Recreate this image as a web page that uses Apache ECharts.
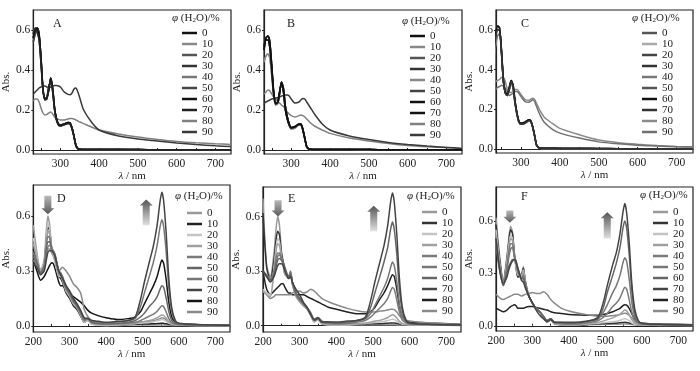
<!DOCTYPE html>
<html>
<head>
<meta charset="utf-8">
<script src="https://cdn.jsdelivr.net/npm/echarts@6/dist/echarts.min.js"></script>
<style>
html, body { margin: 0; padding: 0; background: #fff; }
#chart { width: 700px; height: 371px; }
</style>
</head>
<body>
<div id="chart"></div>
<script>
// water fraction, %
var waterLevels = ['0', '10', '20', '30', '40', '50', '60', '70', '80', '90'];

// wavelength grids, nm
var waveTop = [230,235,240,245,250,255,260,265,270,275,280,285,290,295,300,310,320,325,330,335,340,345,350,360,380,400,450,500,550,600,650,700,740];
var waveBottom = [200,210,220,230,235,240,245,250,255,260,270,275,280,290,300,310,320,330,340,350,360,380,400,430,460,480,495,505,520,530,540,548,553,558,565,572,580,590,600,650,740];

// panel A
var aMono1 = [0.56,0.6,0.61,0.58,0.46,0.31,0.255,0.26,0.3,0.36,0.31,0.21,0.155,0.13,0.125,0.13,0.137,0.135,0.11,0.07,0.025,0.008,0.004,0.003,0.003,0.002,0.002,0.002,0.001,0.001,0.001,0.001,0.001];
var aMono2 = [0.58,0.61,0.59,0.55,0.43,0.3,0.25,0.255,0.31,0.35,0.3,0.2,0.15,0.125,0.12,0.126,0.133,0.13,0.105,0.065,0.02,0.006,0.003,0.003,0.002,0.002,0.002,0.001,0.001,0.001,0.001,0.001,0.001];
var aMono3 = [0.54,0.58,0.6,0.57,0.45,0.3,0.26,0.265,0.32,0.34,0.29,0.2,0.15,0.128,0.122,0.128,0.135,0.133,0.11,0.068,0.022,0.007,0.004,0.003,0.003,0.002,0.002,0.002,0.001,0.001,0.001,0.001,0.001];
var aW80 = [0.245,0.255,0.255,0.24,0.21,0.185,0.175,0.178,0.185,0.19,0.18,0.165,0.158,0.153,0.15,0.15,0.155,0.158,0.158,0.155,0.15,0.145,0.14,0.132,0.115,0.1,0.08,0.065,0.053,0.043,0.036,0.031,0.028];
var aW90 = [0.28,0.29,0.3,0.31,0.315,0.32,0.32,0.315,0.31,0.315,0.32,0.322,0.322,0.32,0.315,0.29,0.278,0.276,0.285,0.305,0.31,0.29,0.26,0.2,0.14,0.1,0.07,0.055,0.045,0.035,0.027,0.021,0.017];

// panel B
var bMono1 = [0.5,0.56,0.57,0.54,0.42,0.29,0.235,0.235,0.28,0.34,0.31,0.22,0.165,0.13,0.11,0.115,0.13,0.13,0.105,0.06,0.018,0.006,0.004,0.003,0.003,0.002,0.002,0.002,0.001,0.001,0.001,0.001,0.001];
var bMono2 = [0.44,0.47,0.48,0.46,0.37,0.27,0.225,0.23,0.28,0.33,0.3,0.21,0.155,0.122,0.105,0.11,0.125,0.125,0.1,0.055,0.015,0.005,0.003,0.003,0.002,0.002,0.002,0.001,0.001,0.001,0.001,0.001,0.001];
var bMono3 = [0.52,0.55,0.55,0.51,0.4,0.28,0.23,0.24,0.29,0.33,0.29,0.2,0.155,0.125,0.112,0.118,0.128,0.127,0.1,0.058,0.016,0.006,0.004,0.003,0.003,0.002,0.002,0.002,0.001,0.001,0.001,0.001,0.001];
var bW80 = [0.28,0.29,0.3,0.295,0.28,0.265,0.255,0.245,0.235,0.225,0.217,0.205,0.19,0.18,0.172,0.165,0.172,0.175,0.172,0.165,0.155,0.145,0.135,0.12,0.1,0.083,0.06,0.045,0.032,0.022,0.016,0.012,0.008];
var bW90 = [0.233,0.24,0.245,0.25,0.255,0.258,0.26,0.262,0.265,0.27,0.272,0.275,0.275,0.27,0.255,0.235,0.24,0.25,0.258,0.255,0.24,0.225,0.21,0.18,0.13,0.1,0.07,0.052,0.038,0.028,0.02,0.013,0.008];

// panel C
var cMono1 = [0.5,0.58,0.62,0.61,0.5,0.35,0.285,0.275,0.31,0.345,0.32,0.24,0.18,0.14,0.13,0.135,0.147,0.143,0.115,0.07,0.022,0.008,0.005,0.004,0.004,0.003,0.003,0.003,0.002,0.002,0.002,0.002,0.002];
var cMono2 = [0.48,0.56,0.6,0.6,0.49,0.34,0.28,0.27,0.3,0.34,0.31,0.23,0.175,0.135,0.125,0.13,0.142,0.14,0.112,0.068,0.02,0.007,0.004,0.003,0.003,0.003,0.003,0.002,0.002,0.002,0.002,0.002,0.002];
var cMono3 = [0.45,0.52,0.57,0.58,0.48,0.34,0.28,0.27,0.3,0.33,0.3,0.23,0.17,0.135,0.125,0.13,0.14,0.138,0.11,0.066,0.02,0.007,0.004,0.003,0.003,0.003,0.002,0.002,0.002,0.002,0.002,0.002,0.002];
var cW80 = [0.33,0.34,0.345,0.35,0.36,0.36,0.34,0.3,0.285,0.285,0.29,0.3,0.3,0.29,0.275,0.25,0.245,0.25,0.256,0.25,0.23,0.21,0.19,0.16,0.13,0.104,0.072,0.045,0.032,0.024,0.018,0.013,0.011];
var cW90 = [0.29,0.3,0.31,0.315,0.32,0.32,0.305,0.28,0.27,0.275,0.28,0.29,0.29,0.28,0.265,0.24,0.235,0.24,0.248,0.24,0.215,0.19,0.168,0.135,0.1,0.08,0.055,0.036,0.026,0.019,0.015,0.011,0.01];

// panel D
var d0  = [0.55,0.4,0.3,0.36,0.5,0.6,0.55,0.44,0.4,0.36,0.28,0.27,0.25,0.19,0.16,0.12,0.1,0.06,0.02,0.03,0.01,0.005,0.003,0.003,0.005,0.005,0.005,0.005,0.005,0.005,0.005,0.005,0.005,0.005,0.004,0.004,0.003,0.003,0.002,0.002,0.001];
var d10 = [0.42,0.36,0.29,0.34,0.45,0.54,0.52,0.43,0.4,0.36,0.27,0.26,0.24,0.18,0.15,0.11,0.09,0.055,0.02,0.035,0.015,0.01,0.008,0.008,0.008,0.009,0.01,0.01,0.011,0.012,0.013,0.014,0.015,0.014,0.012,0.009,0.006,0.004,0.003,0.002,0.002];
var d20 = [0.48,0.38,0.3,0.35,0.46,0.56,0.53,0.43,0.39,0.35,0.27,0.27,0.25,0.19,0.16,0.12,0.1,0.06,0.02,0.03,0.01,0.004,0.003,0.005,0.01,0.012,0.015,0.017,0.02,0.023,0.028,0.033,0.035,0.033,0.025,0.015,0.008,0.005,0.004,0.003,0.002];
var d30 = [0.45,0.37,0.3,0.34,0.44,0.52,0.5,0.42,0.4,0.36,0.28,0.28,0.26,0.2,0.17,0.13,0.1,0.065,0.025,0.035,0.015,0.008,0.006,0.008,0.01,0.015,0.02,0.025,0.03,0.036,0.045,0.055,0.06,0.057,0.042,0.024,0.012,0.007,0.005,0.003,0.002];
var d40 = [0.4,0.35,0.29,0.33,0.42,0.49,0.48,0.42,0.41,0.37,0.29,0.28,0.26,0.2,0.17,0.13,0.11,0.07,0.03,0.04,0.02,0.012,0.01,0.012,0.015,0.02,0.03,0.04,0.055,0.065,0.08,0.1,0.11,0.105,0.075,0.04,0.018,0.01,0.006,0.004,0.003];
var d50 = [0.38,0.34,0.29,0.32,0.4,0.46,0.46,0.42,0.41,0.38,0.3,0.29,0.27,0.21,0.18,0.14,0.11,0.075,0.035,0.04,0.02,0.015,0.012,0.015,0.02,0.03,0.05,0.07,0.11,0.13,0.16,0.2,0.22,0.21,0.15,0.08,0.03,0.015,0.01,0.006,0.004];
var d60 = [0.36,0.33,0.28,0.31,0.38,0.43,0.44,0.42,0.41,0.39,0.3,0.29,0.27,0.22,0.19,0.15,0.12,0.08,0.04,0.04,0.025,0.02,0.015,0.02,0.03,0.04,0.11,0.18,0.28,0.35,0.44,0.54,0.58,0.54,0.4,0.21,0.08,0.025,0.012,0.007,0.004];
var d70 = [0.34,0.32,0.28,0.3,0.35,0.4,0.41,0.41,0.4,0.38,0.3,0.28,0.26,0.22,0.19,0.15,0.12,0.085,0.045,0.04,0.03,0.025,0.02,0.025,0.03,0.05,0.15,0.24,0.36,0.44,0.55,0.68,0.73,0.68,0.5,0.26,0.1,0.03,0.015,0.008,0.004];
var d80 = [0.36,0.3,0.25,0.27,0.29,0.31,0.33,0.345,0.34,0.31,0.24,0.22,0.22,0.2,0.18,0.16,0.145,0.13,0.11,0.085,0.07,0.055,0.045,0.035,0.04,0.05,0.08,0.12,0.18,0.22,0.27,0.33,0.36,0.34,0.25,0.13,0.05,0.02,0.012,0.008,0.005];
var d90 = [0.42,0.36,0.31,0.33,0.38,0.42,0.42,0.4,0.38,0.35,0.3,0.31,0.32,0.3,0.27,0.23,0.21,0.18,0.09,0.05,0.03,0.02,0.015,0.015,0.015,0.017,0.02,0.022,0.025,0.028,0.034,0.04,0.045,0.043,0.033,0.02,0.01,0.006,0.004,0.003,0.002];

// panel E
var e0  = [0.7,0.33,0.27,0.4,0.52,0.6,0.55,0.42,0.35,0.28,0.27,0.3,0.24,0.17,0.14,0.12,0.1,0.06,0.02,0.035,0.01,0.003,0.002,0.002,0.005,0.005,0.005,0.005,0.005,0.005,0.005,0.005,0.005,0.005,0.004,0.004,0.003,0.003,0.002,0.002,0.001];
var e10 = [0.62,0.32,0.25,0.36,0.46,0.52,0.5,0.4,0.35,0.29,0.26,0.28,0.23,0.17,0.14,0.12,0.1,0.06,0.025,0.04,0.015,0.01,0.008,0.008,0.008,0.009,0.01,0.01,0.011,0.012,0.013,0.014,0.015,0.014,0.012,0.009,0.006,0.004,0.003,0.002,0.002];
var e20 = [0.2,0.18,0.17,0.32,0.42,0.48,0.46,0.38,0.33,0.28,0.27,0.3,0.23,0.16,0.13,0.11,0.09,0.055,0.02,0.03,0.01,0.005,0.004,0.005,0.01,0.012,0.015,0.017,0.02,0.023,0.028,0.033,0.035,0.033,0.025,0.015,0.008,0.005,0.004,0.003,0.002];
var e30 = [0.19,0.17,0.16,0.3,0.4,0.45,0.44,0.38,0.33,0.28,0.27,0.29,0.23,0.16,0.13,0.11,0.09,0.06,0.025,0.035,0.012,0.007,0.006,0.008,0.01,0.015,0.02,0.025,0.03,0.036,0.045,0.055,0.06,0.057,0.042,0.024,0.012,0.007,0.005,0.003,0.002];
var e40 = [0.3,0.28,0.26,0.3,0.36,0.4,0.4,0.37,0.34,0.3,0.27,0.3,0.24,0.17,0.14,0.12,0.1,0.065,0.03,0.04,0.02,0.012,0.01,0.012,0.02,0.03,0.05,0.07,0.1,0.12,0.15,0.19,0.21,0.2,0.14,0.075,0.03,0.015,0.01,0.006,0.004];
var e50 = [0.3,0.27,0.25,0.29,0.34,0.38,0.39,0.37,0.35,0.31,0.27,0.29,0.24,0.18,0.15,0.12,0.1,0.07,0.035,0.045,0.025,0.015,0.012,0.015,0.03,0.04,0.07,0.11,0.17,0.21,0.26,0.32,0.35,0.33,0.24,0.12,0.05,0.02,0.012,0.008,0.005];
var e60 = [0.3,0.27,0.25,0.28,0.32,0.36,0.37,0.36,0.35,0.32,0.27,0.28,0.24,0.18,0.15,0.12,0.1,0.07,0.035,0.045,0.025,0.02,0.015,0.02,0.03,0.04,0.11,0.18,0.28,0.35,0.43,0.53,0.57,0.53,0.39,0.2,0.08,0.025,0.012,0.007,0.004];
var e70 = [0.3,0.27,0.24,0.27,0.3,0.33,0.34,0.34,0.33,0.3,0.26,0.27,0.24,0.2,0.17,0.13,0.1,0.06,0.03,0.04,0.02,0.02,0.02,0.025,0.03,0.05,0.15,0.24,0.36,0.44,0.55,0.68,0.73,0.68,0.5,0.26,0.1,0.03,0.015,0.008,0.004];
var e80 = [0.3,0.2,0.17,0.19,0.2,0.21,0.22,0.23,0.23,0.21,0.18,0.18,0.17,0.17,0.17,0.17,0.16,0.15,0.14,0.13,0.12,0.1,0.09,0.075,0.065,0.065,0.08,0.1,0.15,0.18,0.22,0.26,0.28,0.27,0.2,0.11,0.05,0.025,0.02,0.015,0.008];
var e90 = [0.19,0.17,0.15,0.16,0.17,0.17,0.17,0.17,0.17,0.17,0.17,0.17,0.18,0.185,0.19,0.18,0.185,0.2,0.19,0.17,0.15,0.13,0.115,0.095,0.08,0.075,0.075,0.075,0.08,0.082,0.086,0.09,0.09,0.088,0.075,0.055,0.04,0.03,0.025,0.015,0.008];

// panel F
var f0  = [0.62,0.4,0.26,0.4,0.5,0.57,0.54,0.42,0.33,0.28,0.3,0.34,0.26,0.17,0.13,0.1,0.08,0.05,0.02,0.035,0.01,0.004,0.003,0.003,0.006,0.007,0.008,0.008,0.008,0.009,0.009,0.01,0.01,0.01,0.009,0.007,0.005,0.004,0.003,0.002,0.001];
var f10 = [0.58,0.38,0.25,0.38,0.48,0.55,0.53,0.42,0.34,0.28,0.29,0.33,0.26,0.17,0.13,0.1,0.08,0.05,0.02,0.035,0.012,0.006,0.005,0.005,0.01,0.011,0.012,0.013,0.014,0.015,0.017,0.019,0.02,0.019,0.016,0.012,0.008,0.005,0.004,0.003,0.002];
var f20 = [0.55,0.36,0.24,0.37,0.46,0.52,0.5,0.4,0.34,0.29,0.29,0.32,0.25,0.17,0.13,0.1,0.08,0.05,0.022,0.035,0.012,0.006,0.005,0.006,0.012,0.014,0.017,0.02,0.023,0.026,0.032,0.038,0.04,0.038,0.029,0.017,0.009,0.006,0.004,0.003,0.002];
var f30 = [0.52,0.35,0.24,0.35,0.44,0.5,0.49,0.4,0.35,0.3,0.28,0.31,0.25,0.17,0.13,0.1,0.08,0.05,0.025,0.04,0.015,0.008,0.007,0.008,0.015,0.02,0.028,0.035,0.045,0.055,0.067,0.082,0.09,0.086,0.063,0.035,0.016,0.009,0.006,0.004,0.003];
var f40 = [0.5,0.34,0.24,0.34,0.42,0.47,0.47,0.4,0.36,0.31,0.27,0.29,0.24,0.17,0.13,0.1,0.08,0.055,0.03,0.04,0.018,0.012,0.01,0.012,0.02,0.03,0.05,0.07,0.11,0.13,0.16,0.2,0.22,0.21,0.15,0.08,0.03,0.015,0.01,0.006,0.004];
var f50 = [0.48,0.33,0.23,0.32,0.39,0.44,0.45,0.4,0.37,0.32,0.27,0.28,0.24,0.17,0.13,0.1,0.08,0.055,0.03,0.04,0.02,0.015,0.012,0.015,0.03,0.04,0.08,0.12,0.19,0.23,0.29,0.36,0.39,0.37,0.27,0.14,0.055,0.02,0.012,0.008,0.005];
var f60 = [0.45,0.32,0.23,0.3,0.34,0.36,0.38,0.38,0.36,0.33,0.27,0.27,0.23,0.17,0.13,0.1,0.08,0.055,0.03,0.04,0.02,0.018,0.015,0.018,0.03,0.04,0.11,0.19,0.29,0.36,0.45,0.56,0.6,0.56,0.41,0.21,0.08,0.025,0.012,0.007,0.004];
var f70 = [0.5,0.32,0.24,0.28,0.32,0.35,0.37,0.38,0.37,0.33,0.26,0.25,0.22,0.17,0.13,0.09,0.06,0.04,0.025,0.035,0.02,0.02,0.02,0.022,0.03,0.05,0.14,0.23,0.35,0.42,0.53,0.65,0.7,0.65,0.48,0.25,0.1,0.03,0.015,0.008,0.004];
var f80 = [0.1,0.09,0.08,0.09,0.1,0.11,0.115,0.12,0.115,0.1,0.1,0.1,0.105,0.11,0.11,0.105,0.1,0.095,0.09,0.08,0.075,0.07,0.065,0.062,0.06,0.06,0.065,0.07,0.08,0.09,0.1,0.115,0.12,0.118,0.1,0.07,0.04,0.02,0.015,0.01,0.006];
var f90 = [0.18,0.16,0.15,0.16,0.165,0.17,0.175,0.18,0.18,0.18,0.17,0.175,0.18,0.185,0.19,0.185,0.185,0.195,0.18,0.15,0.13,0.1,0.085,0.07,0.06,0.055,0.055,0.055,0.058,0.06,0.065,0.07,0.072,0.07,0.06,0.045,0.03,0.02,0.015,0.01,0.006];

// tick positions
var xTicksTop = [250, 300, 350, 400, 450, 500, 550, 600, 650, 700];
var xTicksBottom = [200, 250, 300, 350, 400, 450, 500, 550, 600, 650, 700];
var xLabelsTop = [300, 400, 500, 600, 700];
var xLabelsBottom = [200, 300, 400, 500, 600, 700];
var yLabelsTop = [0, 0.2, 0.4, 0.6];
var yLabelsBottom = [0, 0.3, 0.6];

var textColor = '#222';
var fontFam = '"Liberation Serif", "DejaVu Serif", "Times New Roman", serif';

var panels = [
    { key: 'A', wave: waveTop,
      ys: [aMono1, aMono2, aMono3, aMono1, aMono2, aMono3, aMono1, aMono2, aW80, aW90],
      colors: ['#111','#888','#555','#333','#777','#444','#111','#222','#808080','#3a3a3a'],
      grid: { left: 33, top: 10, width: 198, height: 144 },
      xMin: 230, xMax: 740, xTicks: xTicksTop, xLabels: xLabelsTop,
      yMin: -0.02, yMax: 0.7, yLabels: yLabelsTop,
      legend: [182, 27.5], head: [172, 13], letter: [53, 18] },
    { key: 'B', wave: waveTop,
      ys: [bMono1, bMono2, bMono3, bMono1, bMono2, bMono3, bMono1, bMono3, bW80, bW90],
      colors: ['#111','#888','#555','#333','#888','#444','#111','#111','#808080','#3a3a3a'],
      grid: { left: 264, top: 10, width: 198, height: 144 },
      xMin: 230, xMax: 740, xTicks: xTicksTop, xLabels: xLabelsTop,
      yMin: -0.02, yMax: 0.7, yLabels: yLabelsTop,
      legend: [410, 30.5], head: [402, 16], letter: [287, 18] },
    { key: 'C', wave: waveTop,
      ys: [cMono2, cMono3, cMono1, cMono2, cMono3, cMono1, cMono1, cMono2, cW80, cW90],
      colors: ['#555','#aaa','#444','#333','#777','#555','#111','#333','#8a8a8a','#707070'],
      grid: { left: 496, top: 10, width: 197, height: 143 },
      xMin: 236, xMax: 742, xTicks: xTicksTop, xLabels: xLabelsTop,
      yMin: -0.02, yMax: 0.7, yLabels: yLabelsTop,
      legend: [642, 27.5], head: [632, 13], letter: [521, 18] },
    { key: 'D', wave: waveBottom,
      ys: [d0, d10, d20, d30, d40, d50, d60, d70, d80, d90],
      colors: ['#999','#222','#c4c4c4','#a0a0a0','#7a7a7a','#666','#777','#444','#151515','#8a8a8a'],
      grid: { left: 32, top: 185, width: 198, height: 147 },
      xMin: 200, xMax: 740, xTicks: xTicksBottom, xLabels: xLabelsBottom,
      yMin: -0.033, yMax: 0.769, yLabels: yLabelsBottom,
      legend: [187, 207.5], head: [175, 191], letter: [57, 193] },
    { key: 'E', wave: waveBottom,
      ys: [e0, e10, e20, e30, e40, e50, e60, e70, e80, e90],
      colors: ['#999','#333','#c4c4c4','#a0a0a0','#7a7a7a','#777','#666','#444','#222','#8a8a8a'],
      grid: { left: 263, top: 187, width: 198, height: 145 },
      xMin: 200, xMax: 740, xTicks: xTicksBottom, xLabels: xLabelsBottom,
      yMin: -0.035, yMax: 0.763, yLabels: yLabelsBottom,
      legend: [422, 206.5], head: [407, 191], letter: [288, 193] },
    { key: 'F', wave: waveBottom,
      ys: [f0, f10, f20, f30, f40, f50, f60, f70, f80, f90],
      colors: ['#999','#333','#c4c4c4','#a0a0a0','#7a7a7a','#777','#666','#444','#222','#8a8a8a'],
      grid: { left: 496, top: 187, width: 197, height: 144 },
      xMin: 200, xMax: 740, xTicks: xTicksBottom, xLabels: xLabelsBottom,
      yMin: -0.03, yMax: 0.795, yLabels: yLabelsBottom,
      legend: [653, 206.5], head: [640, 190], letter: [521, 191] }
];

// gray arrows in D, E, F (data units)
var arrowMarks = [
    { panel: 3, x: 240, from: 0.71, to: 0.61 },
    { panel: 3, x: 510, from: 0.55, to: 0.69 },
    { panel: 4, x: 241, from: 0.69, to: 0.6 },
    { panel: 4, x: 502, from: 0.52, to: 0.66 },
    { panel: 5, x: 238, from: 0.66, to: 0.59 },
    { panel: 5, x: 505, from: 0.5, to: 0.65 }
];

var chart = echarts.init(document.getElementById('chart'));

var grids = [], xAxes = [], yAxes = [], series = [], legends = [], titles = [];

panels.forEach(function (p, pi) {
    grids.push({ left: p.grid.left, top: p.grid.top, width: p.grid.width, height: p.grid.height,
        show: true, borderColor: '#222', borderWidth: 1.2, backgroundColor: 'transparent' });
    xAxes.push({
        gridIndex: pi, type: 'value', min: p.xMin, max: p.xMax,
        name: '{i|λ} / nm', nameLocation: 'middle', nameGap: 17,
        nameTextStyle: { fontFamily: fontFam, fontSize: 11, color: textColor,
            rich: { i: { fontFamily: fontFam, fontStyle: 'italic', fontSize: 11, color: textColor } } },
        axisLine: { show: true, lineStyle: { color: '#222', width: 1.2 } },
        axisTick: { show: true, inside: true, length: 2, customValues: p.xTicks, lineStyle: { color: '#222' } },
        axisLabel: { customValues: p.xLabels, margin: 4, fontFamily: fontFam, fontSize: 11.5, color: textColor },
        splitLine: { show: false }
    });
    yAxes.push({
        gridIndex: pi, type: 'value', min: p.yMin, max: p.yMax,
        name: 'Abs.', nameLocation: 'middle', nameGap: 19,
        nameTextStyle: { fontFamily: fontFam, fontSize: 11, color: textColor },
        axisLine: { show: true, lineStyle: { color: '#222', width: 1.2 } },
        axisTick: { show: true, length: 2, customValues: p.yLabels, lineStyle: { color: '#222' } },
        axisLabel: { customValues: p.yLabels, margin: 3, fontFamily: fontFam, fontSize: 11.5, color: textColor,
            formatter: function (v) { return v.toFixed(1); } },
        splitLine: { show: false }
    });
    var names = [];
    waterLevels.forEach(function (w, i) {
        var name = p.key + w;
        names.push(name);
        var ys = p.ys[i];
        series.push({
            type: 'line', name: name, xAxisIndex: pi, yAxisIndex: pi,
            data: p.wave.map(function (x, k) { return [x, ys[k]]; }),
            showSymbol: false, symbol: 'none', smooth: 0.25,
            z: (w === '80' || w === '90') ? 2 : 3,
            lineStyle: { color: p.colors[i], width: 1.5 },
            itemStyle: { color: p.colors[i] },
            emphasis: { disabled: true }
        });
    });
    legends.push({
        data: names, orient: 'vertical', left: p.legend[0], top: p.legend[1],
        icon: 'rect', itemWidth: 15, itemHeight: 2.5, itemGap: 0, padding: 0,
        selectedMode: false,
        formatter: function (n) { return n.slice(1); },
        textStyle: { fontFamily: fontFam, fontSize: 11, color: textColor, lineHeight: 11, padding: [0, 0, 0, 0] }
    });
    titles.push({
        text: '{i|φ} (H{s|2}O)/%', left: p.head[0], top: p.head[1], padding: 0,
        textStyle: { fontFamily: fontFam, fontSize: 11, fontWeight: 'normal', color: textColor,
            rich: {
                i: { fontFamily: fontFam, fontStyle: 'italic', fontSize: 11, color: textColor },
                s: { fontFamily: fontFam, fontSize: 7, color: textColor, verticalAlign: 'bottom', lineHeight: 9 }
            } }
    });
    titles.push({
        text: p.key, left: p.letter[0], top: p.letter[1], padding: 0,
        textStyle: { fontFamily: fontFam, fontSize: 12, fontWeight: 'normal', color: textColor }
    });
});

chart.setOption({
    animation: false,
    backgroundColor: '#fff',
    title: titles,
    grid: grids,
    xAxis: xAxes,
    yAxis: yAxes,
    legend: legends,
    series: series
});

// arrows: convert data units to pixels
var graphics = arrowMarks.map(function (a) {
    var top = chart.convertToPixel({ gridIndex: a.panel }, [a.x, a.from]);
    var tip = chart.convertToPixel({ gridIndex: a.panel }, [a.x, a.to]);
    var x = top[0], y0 = top[1], y1 = tip[1];
    var dir = y1 > y0 ? 1 : -1;
    var head = 6 * dir;
    var pts = [
        [x - 3.5, y0], [x + 3.5, y0], [x + 3.5, y1 - head], [x + 6.5, y1 - head],
        [x, y1], [x - 6.5, y1 - head], [x - 3.5, y1 - head]
    ];
    var fill = {
        type: 'linear', x: 0, y: 0, x2: 0, y2: 1,
        colorStops: dir > 0
            ? [{ offset: 0, color: '#b8b8b8' }, { offset: 1, color: '#5a5a5a' }]
            : [{ offset: 0, color: '#555' }, { offset: 1, color: '#e0e0e0' }]
    };
    return { type: 'polygon', shape: { points: pts }, style: { fill: fill }, z: 10, silent: true };
});
chart.setOption({ graphic: graphics });
</script>
</body>
</html>
